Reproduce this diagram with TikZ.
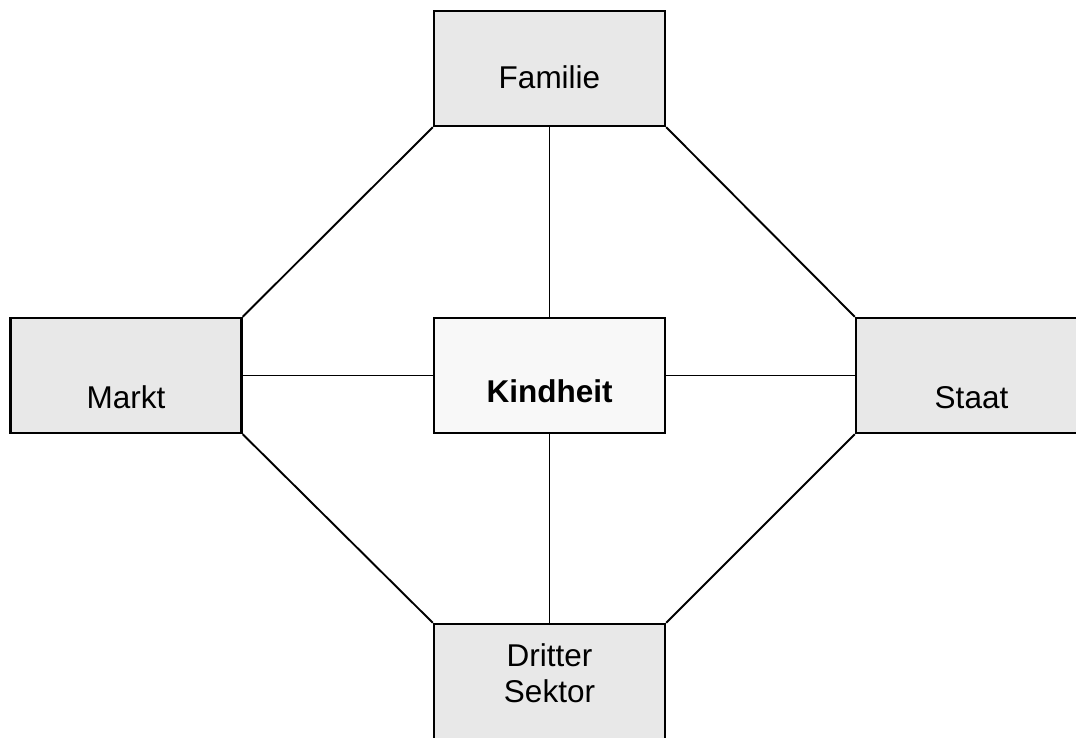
\documentclass[tikz,border=0pt]{standalone}
\usepackage{fontspec}
\setmainfont{Liberation Sans}
\usepackage{tikz}
\usetikzlibrary{positioning}
\definecolor{boxgray}{HTML}{E8E8E8}
\definecolor{kerngray}{HTML}{F8F8F8}
\tikzstyle{sector} = [draw, line width=2.4pt, fill=boxgray, minimum width=231pt, minimum height=115pt, inner sep=0pt]
\tikzstyle{kern} = [sector, fill=kerngray]
\tikzstyle{lbl} = [font=\fontsize{31.5}{36.5}\selectfont, inner sep=0pt, align=center]
\tikzstyle{link} = [line width=1.9pt]

\begin{document}
\begin{tikzpicture}[x=1pt, y=-1pt, line join=miter]
    \useasboundingbox (0,0) rectangle (1076,738);
    \clip (0,0) rectangle (1076,738);

    % Box centres
    \coordinate (cF) at (549.5,68.5);
    \coordinate (cM) at (126,375.5);
    \coordinate (cK) at (549.5,375.5);
    \coordinate (cS) at (971.5,375.5);
    \coordinate (cD) at (549.5,681.5);

    % Boxes
    \node[sector] (familie) at (cF) {};
    \node[sector] (markt)   at (cM) {};
    \node[kern]   (kindheit) at (cK) {};
    \node[sector] (staat)   at (cS) {};
    \node[sector] (dritter) at (cD) {};

    % Links between the boxes
    \foreach \a/\b in {familie.south west/markt.north east,
                       familie.south east/staat.north west,
                       markt.south east/dritter.north west,
                       staat.south west/dritter.north east,
                       familie.south/kindheit.north,
                       kindheit.south/dritter.north,
                       markt.east/kindheit.west,
                       kindheit.east/staat.west}
      \draw[link] (\a) -- (\b);

    % Labels
    \node[lbl, anchor=base] (tF) at ([yshift=-20.5pt]familie.center) {Familie};
    \node[lbl, anchor=base] (tM) at ([yshift=-32.5pt]markt.center) {Markt};
    \node[lbl, anchor=base] (tK) at ([yshift=-27pt]kindheit.center) {\bfseries Kindheit};
    \node[lbl, anchor=base] (tS) at ([yshift=-32.5pt]staat.center) {Staat};
    \node[lbl, anchor=base] (tD) at ([yshift=-21pt]dritter.center) {Dritter\\Sektor};
\end{tikzpicture}
\end{document}
